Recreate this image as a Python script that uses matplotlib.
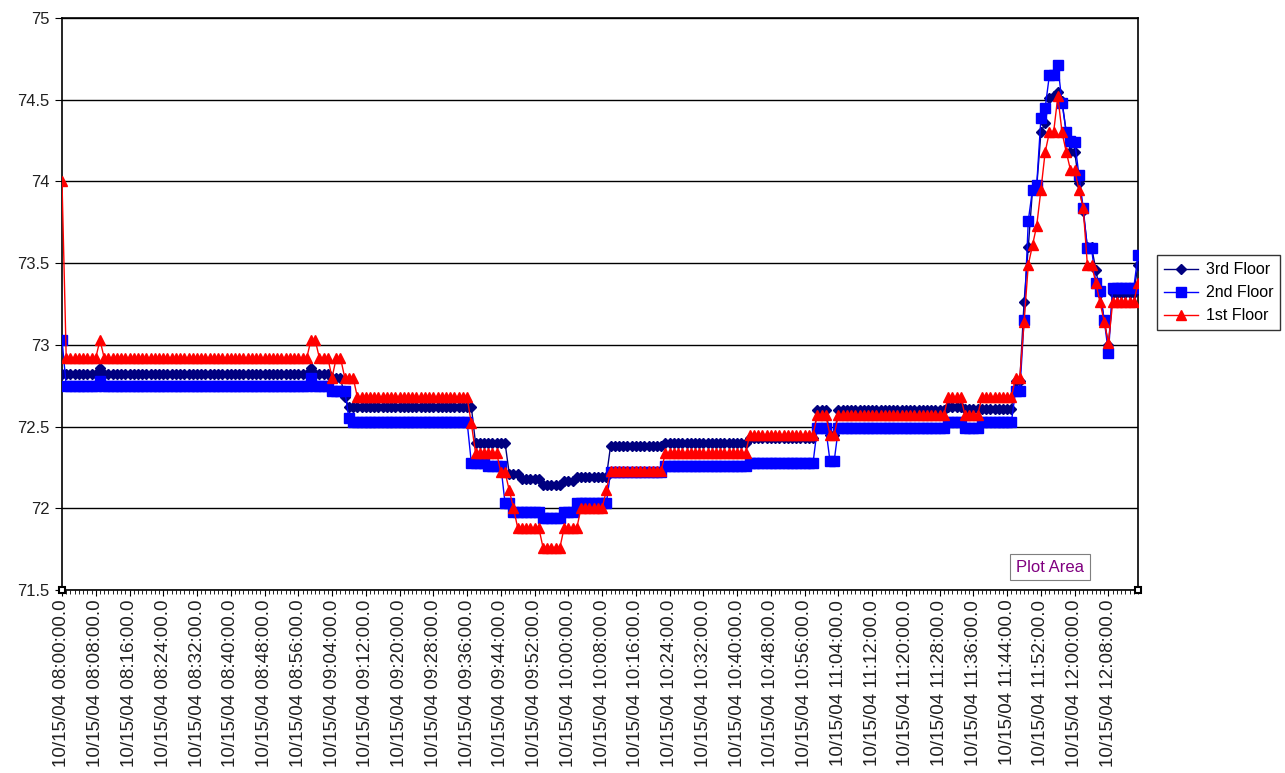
import numpy as np
import matplotlib
matplotlib.use("Agg")
import matplotlib.pyplot as plt
from matplotlib.ticker import FixedLocator, MultipleLocator

plt.rcParams['font.family'] = ['Liberation Sans', 'DejaVu Sans']

# ---------------- data (one value per minute, 08:00 .. 12:15) ----------------
floor3 = ([72.82]*9 + [72.86] + [72.82]*49 + [72.86] + [72.82]*4 + [72.80]*3 + [72.68]
          + [72.62]*30 + [72.40]*8 + [72.21]*3 + [72.18]*5 + [72.14]*5 + [72.17]*3
          + [72.19]*8 + [72.38]*13 + [72.40]*20 + [72.43]*16 + [72.60]*3 + [72.45]*2
          + [72.60]*26 + [72.62]*4 + [72.61]*12 + [72.78]*2
          + [73.26, 73.60, 73.95, 73.97, 74.30, 74.36, 74.51, 74.52, 74.55, 74.49,
             74.30, 74.18, 74.18, 73.99, 73.82, 73.60, 73.60, 73.46, 73.32, 73.15, 73.00]
          + [73.32]*6 + [73.49])

floor2 = ([73.03] + [72.75]*8 + [72.78] + [72.75]*49 + [72.80] + [72.75]*4 + [72.72]*4
          + [72.55] + [72.53]*28 + [72.28]*4 + [72.26]*4 + [72.03]*2 + [71.98]*7
          + [71.94]*5 + [71.98]*3 + [72.03]*8 + [72.22]*13 + [72.26]*20 + [72.28]*16
          + [72.49]*3 + [72.29]*2 + [72.49]*26 + [72.53]*4 + [72.49]*4 + [72.53]*8
          + [72.72]*2
          + [73.15, 73.76, 73.95, 73.98, 74.39, 74.45, 74.65, 74.65, 74.71, 74.48,
             74.30, 74.25, 74.24, 74.04, 73.84, 73.59, 73.59, 73.38, 73.33, 73.15, 72.95]
          + [73.35]*6 + [73.55])

floor1 = ([74.00] + [72.92]*8 + [73.03] + [72.92]*49 + [73.03]*2 + [72.92]*3 + [72.80]
          + [72.92]*2 + [72.80]*3 + [72.68]*27 + [72.52] + [72.34]*6 + [72.22]*2
          + [72.11] + [72.00] + [71.88]*6 + [71.76]*5 + [71.88]*4 + [72.00]*6 + [72.11]
          + [72.23]*13 + [72.34]*20 + [72.45]*16 + [72.57]*3 + [72.45]*2 + [72.57]*26
          + [72.68]*4 + [72.57]*4 + [72.68]*8 + [72.80]*2
          + [73.14, 73.49, 73.61, 73.73, 73.95, 74.18, 74.30, 74.30, 74.52, 74.30,
             74.18, 74.07, 74.07, 73.95, 73.84, 73.49, 73.49, 73.38, 73.26, 73.14, 73.01]
          + [73.26]*6 + [73.38])

tick_labels = ["10/15/04 08:00:00.0", "10/15/04 08:08:00.0", "10/15/04 08:16:00.0",
               "10/15/04 08:24:00.0", "10/15/04 08:32:00.0", "10/15/04 08:40:00.0",
               "10/15/04 08:48:00.0", "10/15/04 08:56:00.0", "10/15/04 09:04:00.0",
               "10/15/04 09:12:00.0", "10/15/04 09:20:00.0", "10/15/04 09:28:00.0",
               "10/15/04 09:36:00.0", "10/15/04 09:44:00.0", "10/15/04 09:52:00.0",
               "10/15/04 10:00:00.0", "10/15/04 10:08:00.0", "10/15/04 10:16:00.0",
               "10/15/04 10:24:00.0", "10/15/04 10:32:00.0", "10/15/04 10:40:00.0",
               "10/15/04 10:48:00.0", "10/15/04 10:56:00.0", "10/15/04 11:04:00.0",
               "10/15/04 11:12:00.0", "10/15/04 11:20:00.0", "10/15/04 11:28:00.0",
               "10/15/04 11:36:00.0", "10/15/04 11:44:00.0", "10/15/04 11:52:00.0",
               "10/15/04 12:00:00.0", "10/15/04 12:08:00.0"]
label_every = 8

# ---------------- figure ----------------
W, H = 1285, 773
fig = plt.figure(figsize=(W/100, H/100), dpi=100, facecolor='white')
ax = fig.add_axes([62/W, 1-590/H, (1138-62)/W, (590-18)/H])

x = np.arange(len(floor3))
ax.plot(x, floor3, color='#000080', lw=1.0, marker='D', ms=5.5, mec='#000080', mfc='#000080', label='3rd Floor', zorder=3)
ax.plot(x, floor2, color='#0000FF', lw=1.0, marker='s', ms=6.5, mec='#0000FF', mfc='#0000FF', label='2nd Floor', zorder=4)
ax.plot(x, floor1, color='#FF0000', lw=1.0, marker='^', ms=7.5, mec='#FF0000', mfc='#FF0000', label='1st Floor', zorder=5)

ax.set_xlim(0, len(x)-1)
ax.set_ylim(71.5, 75)
ax.yaxis.set_major_locator(MultipleLocator(0.5))
ax.yaxis.set_major_formatter(matplotlib.ticker.FuncFormatter(lambda v, p: f"{v:g}"))
ax.grid(axis='y', color='black', lw=1.0, zorder=1)

pos = np.arange(len(tick_labels)) * label_every
ax.xaxis.set_major_locator(FixedLocator(pos))
ax.set_xticklabels(tick_labels, rotation=90, fontsize=13.5, va='top', ha='center', color='#202020')
ax.xaxis.set_minor_locator(FixedLocator(x))
ax.tick_params(axis='x', which='major', length=4, width=0.8, pad=3)
ax.tick_params(axis='x', which='minor', length=3, width=0.6)
ax.tick_params(axis='y', which='major', length=5, width=0.8, labelsize=12, pad=4, labelcolor='#202020')
for s in ax.spines.values():
    s.set_color('black')
    s.set_linewidth(1.2)

# selection handles at the plot-area corners
ax.plot([0, 1], [0, 0], transform=ax.transAxes, ls='none', marker='s', ms=5,
        mfc='white', mec='black', mew=1.5, clip_on=False, zorder=6)

# legend
leg = fig.legend(loc='upper left', bbox_to_anchor=(1157/W, 1-255/H), fontsize=11.5,
                 frameon=True, fancybox=False, edgecolor='black', borderpad=0.45,
                 handlelength=2.1, handletextpad=0.5, labelspacing=0.5, borderaxespad=0)
leg.get_frame().set_linewidth(1.0)

# "Plot Area" tooltip box
fig.text(1050/W, 1-567/H, "Plot Area", color='#800080', fontsize=12, ha='center', va='center',
         bbox=dict(boxstyle='square,pad=0.35', fc='white', ec='#7f7f7f', lw=0.8))

fig.savefig("out.png", dpi=100, facecolor='white')
